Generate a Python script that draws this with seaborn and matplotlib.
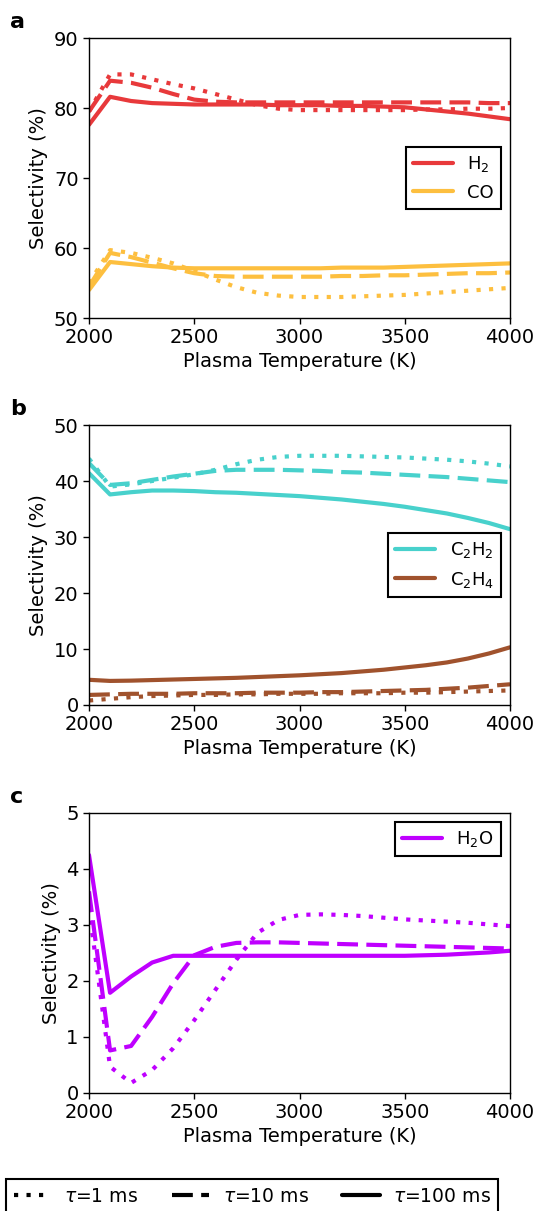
import numpy as np
import pandas as pd
import seaborn as sns
import matplotlib
matplotlib.use("Agg")
import matplotlib.pyplot as plt
from matplotlib.lines import Line2D

# ---------------- data ----------------
T = [2000, 2100, 2200, 2300, 2400, 2500, 2600, 2700, 2800, 2900, 3000,
     3100, 3200, 3300, 3400, 3500, 3600, 3700, 3800, 3900, 4000]

h2_1ms = [79.5, 84.8, 84.8, 84.1, 83.4, 82.8, 82.0, 81.2, 80.4, 79.9, 79.7,
          79.7, 79.7, 79.7, 79.7, 79.7, 79.8, 79.8, 79.9, 79.9, 80.0]
h2_10ms = [79.5, 83.9, 83.6, 82.9, 82.0, 81.2, 80.9, 80.8, 80.8, 80.8, 80.8,
           80.8, 80.8, 80.8, 80.8, 80.8, 80.8, 80.8, 80.8, 80.7, 80.7]
h2_100ms = [77.6, 81.6, 81.0, 80.7, 80.6, 80.5, 80.5, 80.5, 80.5, 80.4, 80.4,
            80.4, 80.3, 80.3, 80.2, 80.1, 79.8, 79.5, 79.2, 78.8, 78.4]

co_1ms = [55.0, 59.7, 59.3, 58.6, 57.8, 56.7, 55.5, 54.4, 53.6, 53.2, 53.0,
          53.0, 53.0, 53.1, 53.2, 53.3, 53.5, 53.7, 53.9, 54.1, 54.3]
co_10ms = [54.5, 59.3, 58.7, 57.9, 57.1, 56.4, 56.0, 55.9, 55.9, 55.9, 55.9,
           55.9, 56.0, 56.0, 56.1, 56.1, 56.2, 56.3, 56.4, 56.4, 56.5]
co_100ms = [54.0, 58.0, 57.7, 57.4, 57.2, 57.1, 57.1, 57.1, 57.1, 57.1, 57.1,
            57.1, 57.2, 57.2, 57.2, 57.3, 57.4, 57.5, 57.6, 57.7, 57.8]

c2h2_1ms = [44.0, 39.0, 39.4, 40.0, 40.6, 41.2, 42.0, 43.0, 43.8, 44.3, 44.5,
            44.5, 44.5, 44.4, 44.3, 44.2, 44.0, 43.8, 43.5, 43.1, 42.6]
c2h2_10ms = [43.2, 39.3, 39.6, 40.2, 40.8, 41.3, 41.8, 42.0, 42.0, 42.0, 41.9,
             41.8, 41.6, 41.5, 41.3, 41.1, 40.9, 40.7, 40.4, 40.1, 39.8]
c2h2_100ms = [41.4, 37.6, 38.0, 38.3, 38.3, 38.2, 38.0, 37.9, 37.7, 37.5, 37.3,
              37.0, 36.7, 36.3, 35.9, 35.4, 34.8, 34.2, 33.4, 32.5, 31.4]

c2h4_1ms = [0.8, 1.1, 1.4, 1.6, 1.7, 1.8, 1.8, 1.9, 1.9, 2.0, 2.0,
            2.0, 2.1, 2.1, 2.1, 2.2, 2.2, 2.3, 2.4, 2.5, 2.6]
c2h4_10ms = [1.8, 1.9, 2.0, 2.0, 2.0, 2.1, 2.1, 2.1, 2.2, 2.2, 2.2,
             2.3, 2.3, 2.4, 2.5, 2.6, 2.7, 2.9, 3.1, 3.4, 3.7]
c2h4_100ms = [4.5, 4.3, 4.35, 4.45, 4.55, 4.65, 4.75, 4.85, 5.0, 5.15, 5.3,
              5.5, 5.7, 6.0, 6.3, 6.7, 7.1, 7.6, 8.3, 9.2, 10.3]

h2o_1ms = [3.3, 0.47, 0.18, 0.41, 0.80, 1.30, 1.84, 2.38, 2.86, 3.09, 3.18,
           3.19, 3.18, 3.16, 3.13, 3.10, 3.08, 3.06, 3.04, 3.01, 2.98]
h2o_10ms = [3.6, 0.76, 0.84, 1.36, 1.96, 2.46, 2.61, 2.68, 2.69, 2.69, 2.68,
            2.67, 2.66, 2.65, 2.64, 2.63, 2.62, 2.61, 2.60, 2.59, 2.58]
h2o_100ms = [4.25, 1.79, 2.08, 2.33, 2.45, 2.45, 2.45, 2.45, 2.45, 2.45, 2.45,
             2.45, 2.45, 2.45, 2.45, 2.45, 2.46, 2.47, 2.49, 2.51, 2.54]

tau_labels = [r"$\tau$=1 ms", r"$\tau$=10 ms", r"$\tau$=100 ms"]
panel_letters = ["a", "b", "c"]
y_ticks = [[50, 60, 70, 80, 90], [0, 10, 20, 30, 40, 50], [0, 1, 2, 3, 4, 5]]
x_ticks = [2000, 2500, 3000, 3500, 4000]

# ---------------- style ----------------
sns.set_theme(style="ticks")
plt.rcParams["font.family"] = ["DejaVu Sans"]
plt.rcParams["mathtext.fontset"] = "dejavusans"
for k in ["text.color", "axes.labelcolor", "xtick.color", "ytick.color",
          "axes.edgecolor"]:
    plt.rcParams[k] = "black"

styles = [(0, (1, 2)), (0, (5, 2)), "-"]
LW = 3.0

panels = [
    {"species": [("H$_2$", "#E8393B", [h2_1ms, h2_10ms, h2_100ms]),
                 ("CO", "#FDBF3F", [co_1ms, co_10ms, co_100ms])],
     "loc": "center right"},
    {"species": [("C$_2$H$_2$", "#48D1CC", [c2h2_1ms, c2h2_10ms, c2h2_100ms]),
                 ("C$_2$H$_4$", "#A0522D", [c2h4_1ms, c2h4_10ms, c2h4_100ms])],
     "loc": "center right"},
    {"species": [("H$_2$O", "#BF00FF", [h2o_1ms, h2o_10ms, h2o_100ms])],
     "loc": "upper right"},
]

W, H = 539, 1211
fig = plt.figure(figsize=(W / 100, H / 100), dpi=100)

left = 89 / W
width = (510 - 89) / W
tops = [38, 425, 813]
ah = 280

for i, p in enumerate(panels):
    top = tops[i]
    ax = fig.add_axes([left, 1 - (top + ah) / H, width, ah / H])
    handles = []
    for name, color, series in p["species"]:
        for ls, vals in zip(styles, series):
            sns.lineplot(x=T, y=vals, ax=ax, color=color, linewidth=LW,
                         linestyle=ls, estimator=None, legend=False)
        handles.append(Line2D([], [], color=color, lw=LW, label=name))
    ax.set_xlim(2000, 4000)
    yt = y_ticks[i]
    ax.set_ylim(yt[0], yt[-1])
    ax.set_yticks(yt)
    ax.set_xticks(x_ticks)
    ax.tick_params(labelsize=14, width=1, length=4, color="black",
                   labelcolor="black")
    for s in ax.spines.values():
        s.set_color("black")
        s.set_linewidth(1)
        s.set_visible(True)
    ax.set_xlabel("Plasma Temperature (K)", fontsize=14, labelpad=3)
    ax.set_ylabel("Selectivity (%)", fontsize=14)
    leg = ax.legend(handles=handles, loc=p["loc"], fontsize=13,
                    fancybox=False, framealpha=1, edgecolor="black",
                    handlelength=2.2)
    leg.get_frame().set_linewidth(1.5)
    fig.text(10 / W, 1 - (top - 10) / H, panel_letters[i], fontsize=16,
             fontweight="bold", va="baseline", ha="left")

tau_handles = [Line2D([], [], color="black", lw=LW, linestyle=ls, label=lab)
               for ls, lab in zip(styles, tau_labels)]
fl = fig.legend(handles=tau_handles, loc="upper left", ncol=3,
                bbox_to_anchor=(6 / W, 1 - 1179 / H), fontsize=13.5,
                fancybox=False, framealpha=1, edgecolor="black",
                handlelength=2.0, handletextpad=0.7, columnspacing=1.8,
                borderaxespad=0)
fl.get_frame().set_linewidth(1.5)

fig.savefig("out.png", dpi=100)
